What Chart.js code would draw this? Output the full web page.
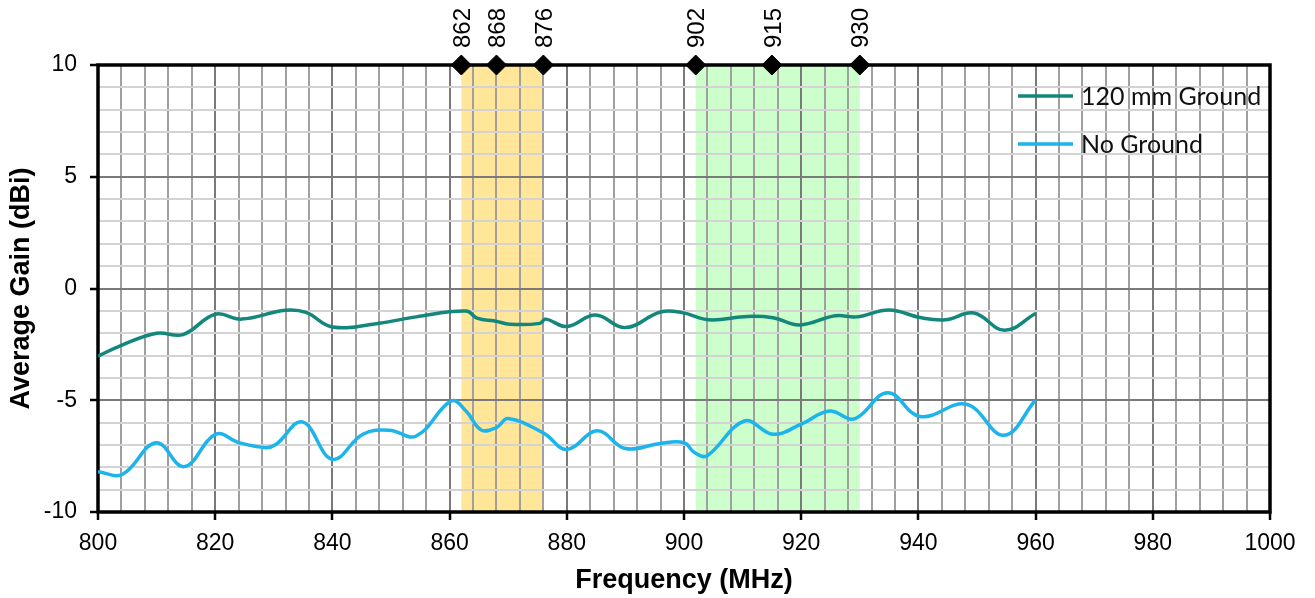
<!DOCTYPE html>
<html>
<head>
<meta charset="utf-8">
<title>Average Gain vs Frequency</title>
<script src="https://cdn.jsdelivr.net/npm/chart.js@4.4.1/dist/chart.umd.min.js"></script>
<style>
  html, body { margin: 0; padding: 0; background: #fff; }
  #gain-chart { display: block; }
</style>
</head>
<body>
<canvas id="gain-chart" width="1315" height="598"></canvas>
<script>
'use strict';

// measured gain, 120 mm ground plane
const groundFreq = [800, 804, 810, 814.5, 820, 824.5, 832, 835.5, 840, 848, 854.3, 862.8, 864.8, 867.7, 870.3, 875.4, 876.4, 880, 884.9, 890, 896, 899.7, 904.2, 910.9, 915.2, 919.7, 925.8, 929.5, 935, 940.3, 944.6, 949.5, 954.7, 960];
const groundGain = [-3.03, -2.54, -2.0, -2.06, -1.15, -1.37, -0.97, -1.07, -1.72, -1.55, -1.27, -1.01, -1.34, -1.45, -1.6, -1.56, -1.37, -1.7, -1.19, -1.75, -1.05, -1.08, -1.4, -1.25, -1.31, -1.63, -1.22, -1.27, -0.96, -1.3, -1.4, -1.1, -1.87, -1.12];

// measured gain, no ground plane
const noGroundFreq = [800, 804.2, 809.9, 814.7, 820.1, 824.1, 828.7, 830.4, 834.9, 840, 845.2, 849.7, 854.3, 860.3, 862.8, 865.4, 868, 870, 876.1, 880, 885.2, 890, 896, 900, 901.8, 903.9, 910.3, 915.2, 920, 924.8, 928.5, 930, 934.8, 940.3, 948.2, 954.6, 960];
const noGroundGain = [-8.2, -8.31, -6.9, -7.97, -6.52, -6.9, -7.12, -6.97, -5.97, -7.64, -6.52, -6.34, -6.6, -5.03, -5.48, -6.33, -6.22, -5.82, -6.48, -7.2, -6.37, -7.16, -6.93, -6.9, -7.34, -7.49, -5.93, -6.52, -6.07, -5.48, -5.85, -5.7, -4.66, -5.73, -5.18, -6.57, -4.99];

// band edges and markers along the top
const markerFreq = [862, 868, 876, 902, 915, 930];
const bands = [[862, 876], [902, 930]];
const bandColors = ['#FFE699', '#CCFFCC'];

const seriesNames = ['120 mm Ground', 'No Ground'];
const seriesColors = ['#13877B', '#1DB3EB'];

const TICK_FONT = { family: '"Liberation Sans", Arial, sans-serif', size: 23 };
const TITLE_FONT = { family: '"Liberation Sans", Arial, sans-serif', size: 27, weight: 'bold' };

function toPoints(xs, ys) {
  let pts = [];
  for (let i = 0; i < xs.length; i++) {
    pts.push({ x: xs[i], y: ys[i] });
  }
  return pts;
}

const bandPlugin = {
  id: 'bandsAndFrame',
  beforeDraw(chart) {
    const ctx = chart.ctx;
    const area = chart.chartArea;
    const xs = chart.scales.x;
    ctx.save();
    for (let i = 0; i < bands.length; i++) {
      const x0 = xs.getPixelForValue(bands[i][0]);
      const x1 = xs.getPixelForValue(bands[i][1]);
      ctx.fillStyle = bandColors[i];
      ctx.fillRect(x0, area.top, x1 - x0, area.bottom - area.top);
    }
    ctx.restore();
  },
  beforeDatasetsDraw(chart) {
    const ctx = chart.ctx;
    const area = chart.chartArea;
    ctx.save();
    ctx.strokeStyle = '#000';
    ctx.lineWidth = 3.5;
    ctx.strokeRect(area.left, area.top, area.right - area.left, area.bottom - area.top);
    ctx.restore();
  },
  afterDraw(chart) {
    const ctx = chart.ctx;
    const xs = chart.scales.x;
    ctx.save();

    // frequency labels above the markers
    ctx.fillStyle = '#000';
    ctx.font = '24px "Liberation Sans", Arial, sans-serif';
    ctx.textAlign = 'left';
    ctx.textBaseline = 'middle';
    markerFreq.forEach(f => {
      const x = xs.getPixelForValue(f) + 2;
      ctx.save();
      ctx.translate(x, 48);
      ctx.rotate(-Math.PI / 2);
      ctx.fillText(String(f), 0, 0);
      ctx.restore();
    });

    // legend
    ctx.font = '25px Lato, "Open Sans", sans-serif';
    ctx.fillStyle = '#111';
    const legendY = [96, 144];
    for (let i = 0; i < seriesNames.length; i++) {
      ctx.strokeStyle = seriesColors[i];
      ctx.lineWidth = 3.5;
      ctx.beginPath();
      ctx.moveTo(1018, legendY[i]);
      ctx.lineTo(1073, legendY[i]);
      ctx.stroke();
      ctx.fillText(seriesNames[i], 1081, legendY[i] + 1);
    }
    ctx.restore();
  }
};

const ctx = document.getElementById('gain-chart').getContext('2d');

const gainChart = new Chart(ctx, {
  type: 'line',
  data: {
    datasets: [
      {
        label: seriesNames[0],
        data: toPoints(groundFreq, groundGain),
        borderColor: seriesColors[0],
        borderWidth: 3.5,
        pointRadius: 0,
        tension: 0.4,
        fill: false
      },
      {
        label: seriesNames[1],
        data: toPoints(noGroundFreq, noGroundGain),
        borderColor: seriesColors[1],
        borderWidth: 3.5,
        pointRadius: 0,
        tension: 0.4,
        fill: false
      },
      {
        type: 'scatter',
        label: 'markers',
        data: markerFreq.map(f => ({ x: f, y: 10 })),
        pointStyle: 'rectRot',
        pointRadius: 10,
        backgroundColor: '#000',
        borderColor: '#000',
        borderWidth: 1,
        clip: false
      }
    ]
  },
  options: {
    responsive: false,
    animation: false,
    events: [],
    layout: { padding: { left: 0, right: 45, top: 65, bottom: 0 } },
    plugins: {
      legend: { display: false },
      tooltip: { enabled: false }
    },
    scales: {
      x: {
        type: 'linear',
        min: 800,
        max: 1000,
        afterFit: s => { s.height = 86; },
        border: { display: false },
        grid: {
          color: c => (c.tick.value % 20 === 0 ? '#7A7A7A' : '#A0A0A0'),
          lineWidth: 2,
          tickLength: 8,
          tickWidth: 2.5,
          tickColor: c => (c.tick.value % 20 === 0 ? '#000' : 'rgba(0,0,0,0)')
        },
        ticks: {
          stepSize: 4,
          autoSkip: false,
          maxRotation: 0,
          padding: 10,
          color: '#000',
          font: TICK_FONT,
          callback: v => (v % 20 === 0 ? v : '')
        },
        title: {
          display: true,
          text: 'Frequency (MHz)',
          color: '#000',
          font: TITLE_FONT,
          padding: { top: 0, bottom: 1 }
        }
      },
      y: {
        min: -10,
        max: 10,
        afterFit: s => { s.width = 98; },
        border: { display: false },
        grid: {
          color: c => (c.tick.value % 5 === 0 ? '#7A7A7A' : '#D3D3D3'),
          lineWidth: 2,
          tickLength: 8,
          tickWidth: 2.5,
          tickColor: c => (c.tick.value % 5 === 0 ? '#000' : 'rgba(0,0,0,0)')
        },
        ticks: {
          stepSize: 1,
          autoSkip: false,
          padding: 13,
          color: '#000',
          font: TICK_FONT,
          callback: v => (v % 5 === 0 ? v : '')
        },
        title: {
          display: true,
          text: 'Average Gain (dBi)',
          color: '#000',
          font: TITLE_FONT,
          padding: { top: 5, bottom: 0 }
        }
      }
    }
  },
  plugins: [bandPlugin]
});
</script>
</body>
</html>
